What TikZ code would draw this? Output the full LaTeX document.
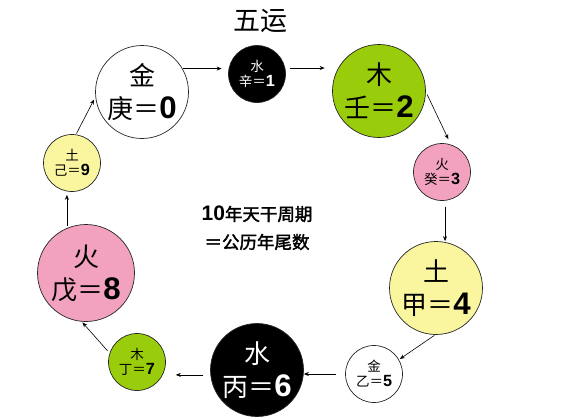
\documentclass[tikz,border=0pt]{standalone}
\usepackage{fontspec}
\setmainfont{Noto Sans CJK SC}
\newfontfamily\numfont{Liberation Sans}[Scale=1.2]
\newfontfamily\cjkbold{Noto Sans CJK SC}[FakeBold=2]
\newcommand{\dg}[1]{{\numfont\bfseries #1}}
\usetikzlibrary{arrows.meta}
\definecolor{woodgreen}{RGB}{153,204,10}
\definecolor{firepink}{RGB}{242,162,190}
\definecolor{earthyellow}{RGB}{250,246,160}
\begin{document}
\begin{tikzpicture}[x=1pt, y=-1pt,
                    big/.style={circle, draw=black!85, line width=0.7pt, minimum size=93pt, inner sep=0pt, align=center, font=\fontsize{26}{33}\selectfont},
                    small/.style={circle, draw=black!85, line width=0.7pt, minimum size=57pt, inner sep=0pt, align=center, font=\fontsize{13.5}{15}\selectfont},
                    arr/.style={-{Stealth[length=5pt, width=4pt]}, line width=0.6pt}]
\useasboundingbox (0,0) rectangle (564,416);

\node (title) at (260,21) {\fontsize{27}{27}\selectfont 五运};

% ten stems
\node[big, fill=white] (geng) at (142,92) {金\\庚＝\dg{0}};
\node[small, fill=black, text=white] (xin) at (257,74) {水\\辛＝\dg{1}};
\node[big, fill=woodgreen] (ren) at (379,91) {木\\壬＝\dg{2}};
\node[small, fill=firepink] (gui) at (442,172) {火\\癸＝\dg{3}};
\node[big, fill=earthyellow] (jia) at (436,288) {土\\甲＝\dg{4}};
\node[small, fill=white] (yi) at (374,374) {金\\乙＝\dg{5}};
\node[big, fill=black, text=white] (bing) at (257,370) {水\\丙＝\dg{6}};
\node[small, fill=woodgreen] (ding) at (137,362) {木\\丁＝\dg{7}};
\node[big, fill=firepink, minimum size=97pt] (wu) at (86,273) {火\\戊＝\dg{8}};
\node[small, fill=earthyellow] (ji) at (72,163) {土\\己＝\dg{9}};

\node[align=center, font=\cjkbold\fontsize{17.5}{28}\selectfont] (note) at (257,228)
    {\dg{10}年天干周期\\＝公历年尾数};

% cycle
\draw[arr, shorten <=1pt, shorten >=3pt] (ji.82) -- (geng.186);
\draw[arr, shorten >=6.5pt] (geng.30) -- (geng.30 -| xin.west);
\draw[arr, shorten <=5pt, shorten >=7.5pt] (xin.12) -- (xin.12 -| ren.west);
\draw[arr, shorten <=3pt, shorten >=6pt] (ren.-1) -- (gui.72);
\draw[arr, shorten <=6pt, shorten >=0pt] (gui.-84) -- (gui.-84 |- jia.north);
\draw[arr, shorten <=1pt, shorten >=1pt] (jia.-91) -- (yi.30);
\draw[arr, shorten <=9pt, shorten >=0pt] (yi.west) -- (yi.west -| bing.east);
\draw[arr, shorten <=7pt, shorten >=10pt] (bing.186) -- (bing.186 -| ding.east);
\draw[arr, shorten <=3pt, shorten >=1pt] (ding.162) -- (wu.-95);
\draw[arr, shorten <=2pt, shorten >=3pt] (wu.113) -- (wu.113 |- ji.south);
\end{tikzpicture}
\end{document}
